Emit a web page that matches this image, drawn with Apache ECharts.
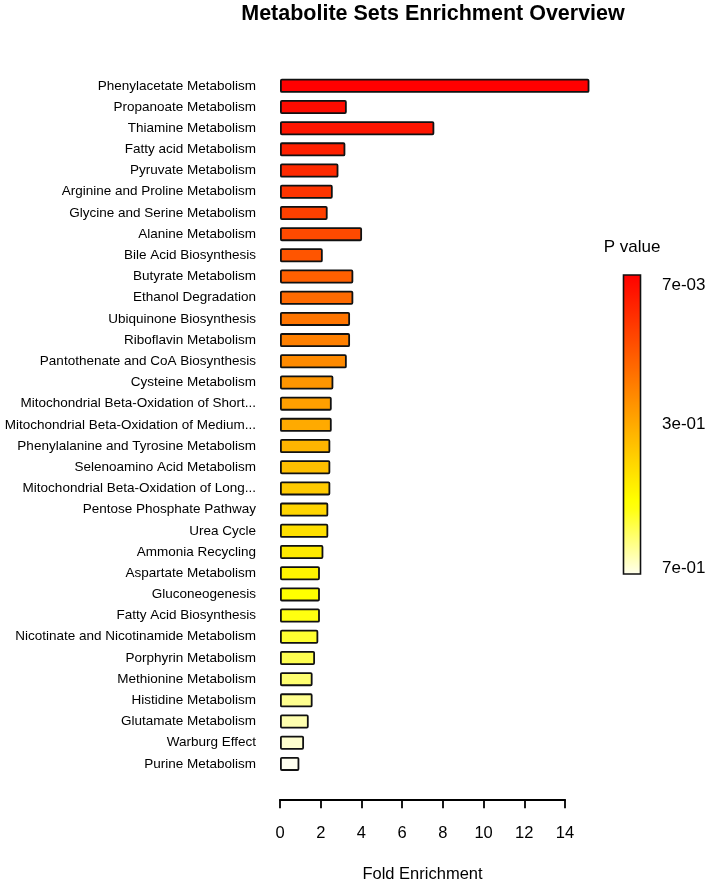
<!DOCTYPE html>
<html><head><meta charset="utf-8">
<script src="https://cdn.jsdelivr.net/npm/echarts@6/dist/echarts.min.js"></script>
<style>html,body{margin:0;padding:0;background:#fff}#c{width:708px;height:882px}</style>
</head><body><div id="c"></div>
<script>
const titleText = 'Metabolite Sets Enrichment Overview';
const axisName = 'Fold Enrichment';
const categories = [
  'Phenylacetate Metabolism','Propanoate Metabolism','Thiamine Metabolism','Fatty acid Metabolism',
  'Pyruvate Metabolism','Arginine and Proline Metabolism','Glycine and Serine Metabolism','Alanine Metabolism',
  'Bile Acid Biosynthesis','Butyrate Metabolism','Ethanol Degradation','Ubiquinone Biosynthesis',
  'Riboflavin Metabolism','Pantothenate and CoA Biosynthesis','Cysteine Metabolism',
  'Mitochondrial Beta-Oxidation of Short...','Mitochondrial Beta-Oxidation of Medium...',
  'Phenylalanine and Tyrosine Metabolism','Selenoamino Acid Metabolism','Mitochondrial Beta-Oxidation of Long...',
  'Pentose Phosphate Pathway','Urea Cycle','Ammonia Recycling','Aspartate Metabolism','Gluconeogenesis',
  'Fatty Acid Biosynthesis','Nicotinate and Nicotinamide Metabolism','Porphyrin Metabolism',
  'Methionine Metabolism','Histidine Metabolism','Glutamate Metabolism','Warburg Effect','Purine Metabolism'
];
const foldEnrichment = [15.2, 3.28, 7.58, 3.21, 2.87, 2.59, 2.34, 4.03, 2.10, 3.60, 3.60, 3.44, 3.44, 3.28,
  2.62, 2.54, 2.54, 2.47, 2.47, 2.47, 2.37, 2.37, 2.13, 1.96, 1.96, 1.96, 1.88, 1.72, 1.60, 1.60, 1.41, 1.18, 0.95];
const xMin = 0, xMax = 14, xStep = 2;
const legendTitle = 'P value';
const legendLabels = ['7e-03', '3e-01', '7e-01'];

function hsv(h, s, v) {
  const i = Math.floor(h * 6), f = h * 6 - i;
  const p = v * (1 - s), q = v * (1 - f * s), t = v * (1 - (1 - f) * s);
  let r, g, b;
  switch (i % 6) {
    case 0: r = v; g = t; b = p; break;
    case 1: r = q; g = v; b = p; break;
    case 2: r = p; g = v; b = t; break;
    case 3: r = p; g = q; b = v; break;
    case 4: r = t; g = p; b = v; break;
    default: r = v; g = p; b = q;
  }
  const hx = x => Math.round(x * 255).toString(16).padStart(2, '0');
  return '#' + hx(r) + hx(g) + hx(b);
}
// R's heat.colors(n)
function heatColors(n) {
  const j = Math.floor(n / 4), i = n - j, out = [];
  for (let k = 0; k < i; k++) out.push(hsv(i > 1 ? (k / (i - 1)) / 6 : 0, 1, 1));
  for (let k = 0; k < j; k++) {
    const s = j > 1 ? (1 - 1 / (2 * j)) + k * ((1 / (2 * j)) - (1 - 1 / (2 * j))) / (j - 1) : 0.5;
    out.push(hsv(1 / 6, s, 1));
  }
  return out;
}
const cols = heatColors(categories.length);
const barData = foldEnrichment.map((v, k) => ({ value: v, itemStyle: { color: cols[k] } }));

const font = 'Liberation Sans, Arial, Helvetica, sans-serif';
const chart = echarts.init(document.getElementById('c'), null, { renderer: 'canvas' });

const cbX = 623.5, cbY = 275, cbW = 17, cbH = 299;
const stops = cols.map((c, k) => ({ offset: k / (cols.length - 1), color: c }));
const labelYs = [cbY + 10, cbY + cbH / 2, cbY + cbH - 6];

chart.setOption({
  backgroundColor: '#fff',
  animation: false,
  title: {
    text: titleText, left: 428, top: -2, textAlign: 'center',
    textStyle: { fontSize: 21.5, fontWeight: 'bold', color: '#000', fontFamily: font }
  },
  grid: { left: 280, width: 285, top: 75.2, height: 699.3, containLabel: false, outerBoundsMode: 'none' },
  xAxis: {
    type: 'value', min: xMin, max: xMax, interval: xStep, position: 'bottom', offset: 24.8,
    splitLine: { show: false },
    axisLine: { show: true, lineStyle: { color: '#000', width: 1.8 } },
    axisTick: { show: true, inside: false, length: 9, lineStyle: { color: '#000', width: 1.8 } },
    axisLabel: { margin: 26, fontSize: 16.5, color: '#000', fontFamily: font },
    name: axisName, nameLocation: 'middle', nameGap: 66.5,
    nameTextStyle: { fontSize: 16.5, color: '#000', fontFamily: font }
  },
  yAxis: {
    type: 'category', data: categories, inverse: true,
    axisLine: { show: false }, axisTick: { show: false }, splitLine: { show: false },
    axisLabel: { margin: 24, fontSize: 13.5, color: '#000', fontFamily: font, interval: 0 }
  },
  series: [{
    type: 'bar', data: barData, barWidth: 14, clip: false,
    itemStyle: { borderColor: '#111', borderWidth: 1.8, borderRadius: 1 }
  }],
  graphic: [
    { type: 'rect', shape: { x: cbX, y: cbY, width: cbW, height: cbH },
      style: { fill: new echarts.graphic.LinearGradient(0, 0, 0, 1, stops), stroke: '#111', lineWidth: 1.6 } },
    { type: 'text', x: cbX + cbW / 2, y: 247, style: { text: legendTitle, fontSize: 17, fill: '#000',
      fontFamily: font, align: 'center', verticalAlign: 'middle' } },
    ...legendLabels.map((t, k) => ({ type: 'text', x: 662, y: labelYs[k],
      style: { text: t, fontSize: 17, fill: '#000', fontFamily: font, align: 'left', verticalAlign: 'middle' } }))
  ]
});
</script></body></html>
